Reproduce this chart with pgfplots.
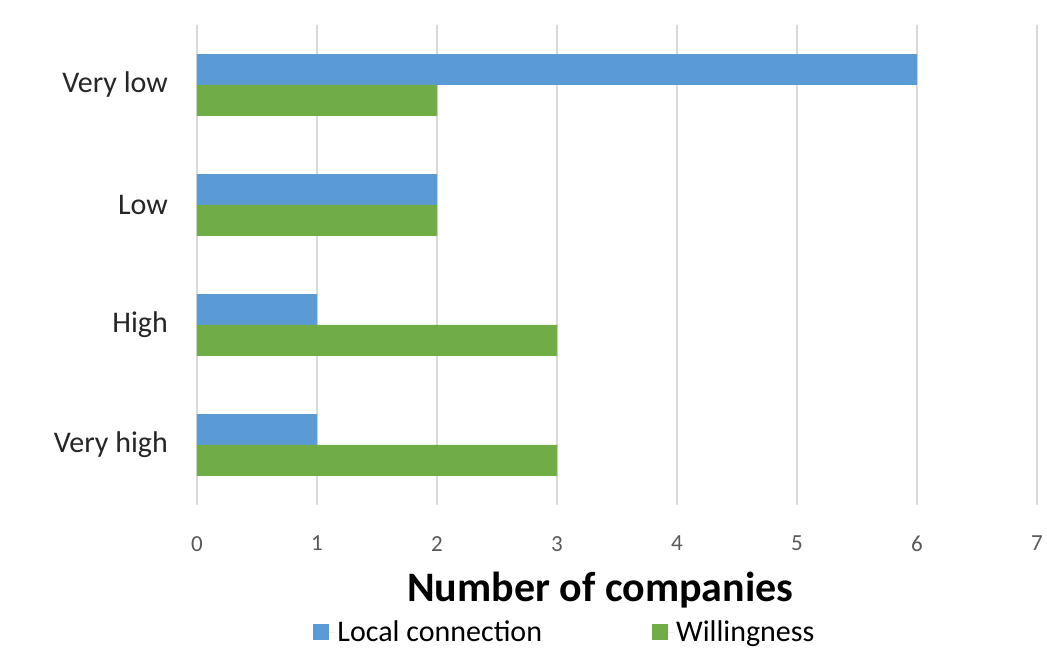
\documentclass[border=0pt]{standalone}
\usepackage{pgfplots}
\pgfplotsset{compat=1.18}
\usepackage{fontspec}
\setmainfont{Carlito}

\definecolor{barblue}{HTML}{5B9BD5}
\definecolor{bargreen}{HTML}{70AD47}
\definecolor{gridgrey}{HTML}{D9D9D9}
\definecolor{ticktext}{HTML}{595959}

\begin{document}
\begin{tikzpicture}[x=1pt,y=1pt]
  % page frame, 1047 x 650
  \path[fill=white] (0,0) rectangle (1047,650);
  \begin{axis}[
      at={(197pt,145pt)}, anchor=south west,
      scale only axis,
      width=840pt, height=480pt,
      xbar,
      bar width=0.258,
      xmin=0, xmax=7,
      ymin=-0.5, ymax=3.5,
      xtick={0,...,7},
      ytick={0,1,2,3},
      yticklabels={Very high,High,Low,Very low},
      axis line style={draw=none},
      major tick length=0pt,
      xmajorgrids,
      grid style={gridgrey, line width=1.3pt},
      /pgf/number format/assume math mode=true,
      xticklabel style={font=\fontsize{23}{27}\selectfont, text=ticktext, inner sep=0pt, yshift=-31pt},
      yticklabel style={font=\fontsize{30}{35}\selectfont, text=black!85, inner sep=0pt, xshift=-29pt},
      xlabel={\textbf{Number of companies}},
      xlabel style={font=\fontsize{42}{48}\selectfont, at={(axis description cs:0.48,-0.177)}, anchor=center},
      legend columns=2,
      legend style={draw=none, fill=none, font=\fontsize{30}{34}\selectfont,
        at={(axis description cs:0.438,-0.265)}, anchor=center,
        /tikz/every even column/.append style={column sep=108pt}},
      legend image code/.code={\fill[#1] (0pt,-8pt) rectangle (16pt,8pt); \path (0pt,0pt) -- (22pt,0pt);},
    ]
    \addplot[fill=barblue, draw=none, bar shift=0.129]
      coordinates {(6,3) (2,2) (1,1) (1,0)};
    \addplot[fill=bargreen, draw=none, bar shift=-0.129]
      coordinates {(2,3) (2,2) (3,1) (3,0)};
    \legend{Local connection, Willingness}
  \end{axis}
\end{tikzpicture}
\end{document}
